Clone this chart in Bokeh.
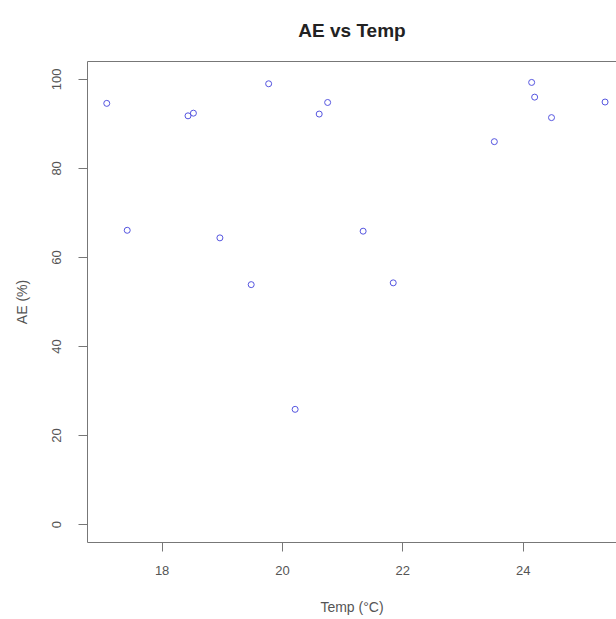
from bokeh.plotting import figure
from bokeh.models import Range1d, FixedTicker, LinearAxis
from bokeh.embed import file_html
from bokeh.resources import INLINE

# ---- data ----
temp_c = [17.08, 17.42, 18.43, 18.52, 18.96, 19.48, 19.77, 20.21, 20.61,
          20.75, 21.34, 21.84, 23.52, 24.14, 24.19, 24.47, 25.36]
ae_pct = [94.6, 66.1, 91.8, 92.4, 64.4, 53.9, 99.0, 25.9, 92.2,
          94.8, 65.9, 54.3, 86.0, 99.3, 96.0, 91.4, 94.9]
x_ticks = [18, 20, 22, 24]
y_ticks = [0, 20, 40, 60, 80, 100]
title_text = "AE vs Temp"
x_label = "Temp (°C)"
y_label = "AE (%)"

FONT = "Liberation Sans"
AXIS_COL = "#777777"
TEXT_COL = "#555555"

p = figure(width=616, height=619, output_backend="svg", toolbar_location=None,
           x_range=Range1d(16.76, 25.55), y_range=Range1d(-4, 104),
           min_border_left=87, min_border_right=0, min_border_top=61,
           min_border_bottom=77, title=title_text)
p.outline_line_color = None
p.grid.visible = False
p.background_fill_color = "white"
p.border_fill_color = "white"

p.title.text_font = FONT
p.title.text_font_size = "19px"
p.title.text_font_style = "bold"
p.title.text_color = "#222222"
p.title.align = "center"
p.title.vertical_align = "top"
p.title.standoff = 37

for ax in (p.xaxis[0], p.yaxis[0]):
    ax.axis_line_color = AXIS_COL
    ax.major_tick_line_color = AXIS_COL
    ax.major_tick_out = 9
    ax.major_tick_in = 0
    ax.minor_tick_line_color = None
    ax.major_label_text_font = FONT
    ax.major_label_text_font_size = "13px"
    ax.major_label_text_color = TEXT_COL
    ax.axis_label_text_font = FONT
    ax.axis_label_text_font_style = "normal"
    ax.axis_label_text_font_size = "14px"
    ax.axis_label_text_color = TEXT_COL
    ax.axis_label_standoff = 21

p.xaxis.major_label_standoff = 14
p.yaxis.major_label_standoff = 17
p.yaxis.axis_label_standoff = 20
p.xaxis.ticker = FixedTicker(ticks=x_ticks)
p.yaxis.ticker = FixedTicker(ticks=y_ticks)
p.xaxis.axis_label = x_label
p.yaxis.axis_label = y_label
p.yaxis.major_label_orientation = "vertical"

# top border of the box (no ticks)
top = LinearAxis(axis_line_color=AXIS_COL, major_tick_line_color=None,
                 minor_tick_line_color=None, major_label_text_font_size="0px",
                 major_label_standoff=0, ticker=FixedTicker(ticks=[]))
p.add_layout(top, "above")

p.scatter(temp_c, ae_pct, marker="circle", size=6, fill_color=None,
          line_color="#5555e0", line_width=1)

open("out.html", "w").write(file_html(p, INLINE))
